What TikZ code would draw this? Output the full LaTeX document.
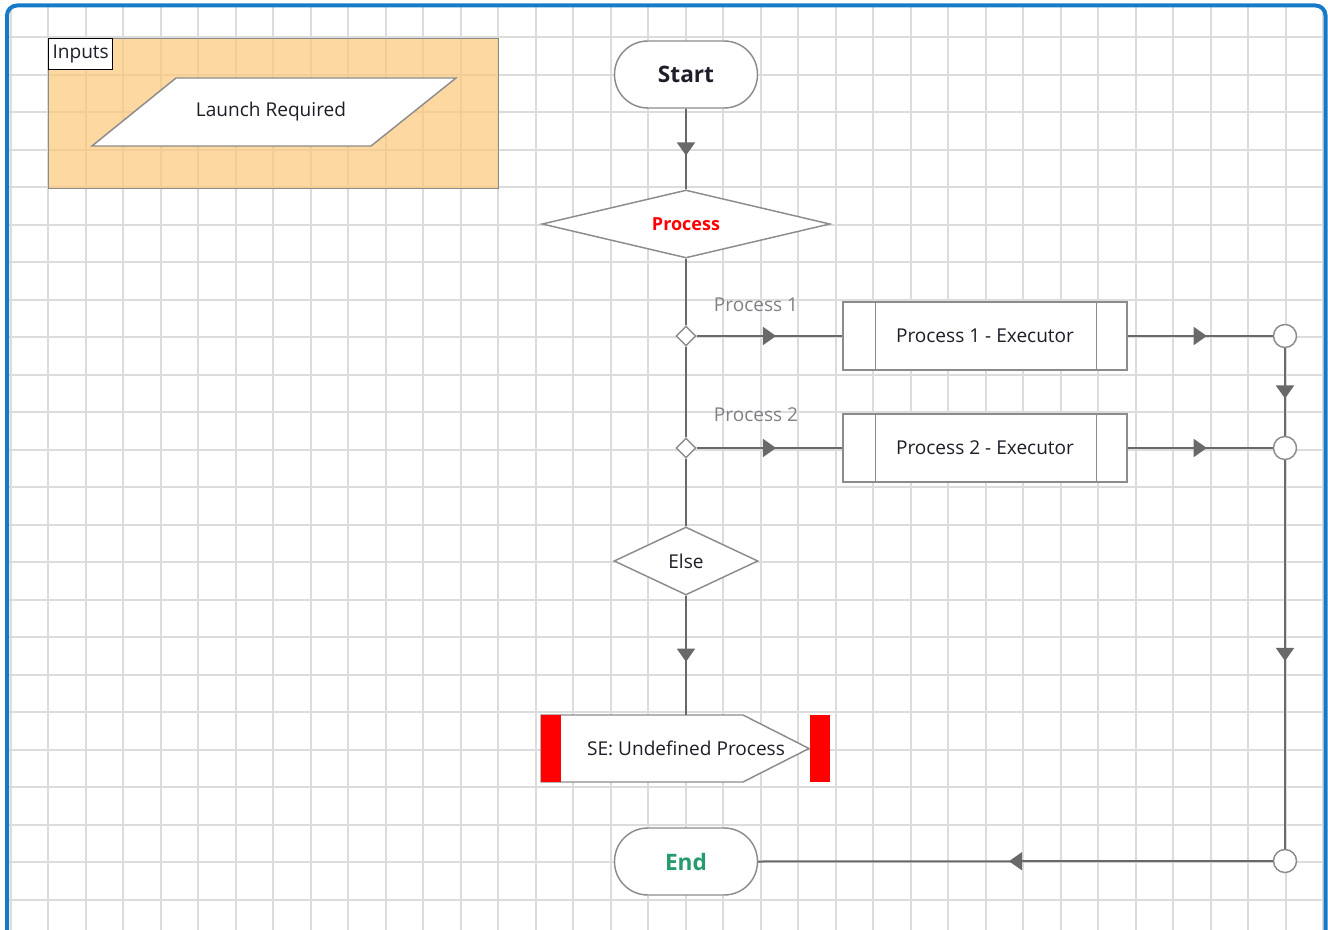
\documentclass[tikz,border=0pt]{standalone}
\usepackage{fontspec}
\setmainfont{Open Sans}
\usetikzlibrary{shapes.geometric,decorations.markings,calc}
\def\pxu{0.75pt}
\definecolor{gridc}{RGB}{220,220,220}
\definecolor{framec}{RGB}{22,122,200}
\definecolor{linec}{RGB}{105,105,105}
\definecolor{bordc}{RGB}{140,140,140}
\definecolor{orangec}{RGB}{252,200,119}
\definecolor{endc}{RGB}{38,155,110}
\definecolor{lblc}{RGB}{128,128,135}
\definecolor{txtc}{RGB}{30,30,40}
\begin{document}
\begin{tikzpicture}[x=0.75pt,y=-0.75pt,
  every node/.style={font=\fontsize{14.3}{17}\selectfont, text=txtc},
  conn/.style={draw=linec,line width=1.5pt},
  midarrow/.style={postaction={decorate},decoration={markings,
     mark=at position 0.5 with {\fill[linec] (4.9pt,0pt)--(-4.9pt,6.9pt)--(-4.9pt,-6.9pt)--cycle;}}},
  shp/.style={draw=bordc, fill=white, line width=1.1pt},
  term/.style={shp, rounded corners=25pt, minimum width=143*\pxu, minimum height=67*\pxu,
     font=\fontsize{17}{20}\selectfont\bfseries},
  dia/.style={shp, diamond, inner sep=0pt, aspect=3},
  pbox/.style={shp, rectangle, minimum width=284*\pxu, minimum height=68*\pxu},
  junc/.style={shp, circle, inner sep=0pt, minimum size=23*\pxu},
  sdia/.style={shp, diamond, inner sep=0pt, minimum width=20*\pxu, minimum height=20*\pxu},
  lbl/.style={text=lblc}
]
\useasboundingbox (0,0) rectangle (1328,930);
% grid
\begin{scope}
  \clip[rounded corners=7.5pt] (7,5.5) rectangle (1325.5,945);
  \foreach \i in {0,...,35} \draw[gridc,line width=1.4pt] (10.8+37.5*\i,0) -- (10.8+37.5*\i,935);
  \foreach \j in {1,...,24} \draw[gridc,line width=1.4pt] (0,-0.2+37.5*\j) -- (1328,-0.2+37.5*\j);
\end{scope}
\draw[framec,line width=3pt,rounded corners=7.5pt] (7,940) -- (7,5.5) -- (1325.5,5.5) -- (1325.5,940);

% inputs group
\node[draw=bordc, line width=1pt, fill=orangec, fill opacity=0.7, anchor=north west,
  minimum width=450*\pxu, minimum height=150*\pxu, inner sep=0pt] (grp) at (48,38) {};
\node[draw=black, fill=white, line width=1pt, anchor=north west, inner sep=0pt,
  minimum width=64*\pxu, minimum height=31*\pxu] (inlbl) at (48,38) {Inputs};
\draw[shp] (92,146) -- (176,78) -- (456,78) -- (371,146) -- cycle;
\node (launch) at (271,112) {Launch Required};

% main flow
\node[term] (start) at (686,74.5) {Start};
\node[dia, minimum width=288*\pxu, minimum height=68*\pxu, font=\fontsize{13.5}{16}\selectfont\bfseries, text=red] (proc) at (686,224) {Process};
\node[sdia] (d1) at (686,336) {};
\node[sdia] (d2) at (686,448) {};
\node[dia, minimum width=144*\pxu, minimum height=68*\pxu] (else) at (686,561) {Else};

\node[pbox] (p1) at (985,336) {Process 1 - Executor};
\node[pbox] (p2) at (985,448) {Process 2 - Executor};
\foreach \b in {p1,p2}{
  \draw[bordc,line width=1.1pt] ($(\b.north west)+(33,0)$) -- ($(\b.south west)+(33,0)$);
  \draw[bordc,line width=1.1pt] ($(\b.north east)+(-31,0)$) -- ($(\b.south east)+(-31,0)$);
}
\node[lbl] (l1) at (756,305) {Process 1};
\node[lbl] (l2) at (756,415) {Process 2};

\node[junc] (c1) at (1285,336) {};
\node[junc] (c2) at (1285,448) {};
\node[junc] (c3) at (1285,861) {};

% SE node
\draw[shp] (541,715) -- (743,715) -- (809,748.5) -- (743,782) -- (541,782) -- cycle;
\fill[red] (541,715) rectangle (561,782);
\fill[red] (810,715) rectangle (830,782);
\node[minimum height=67*\pxu, inner sep=0pt] (se) at (686,748.5) {SE: Undefined Process};

\node[term, text=endc] (end) at (686,861.5) {End};

% connectors
\draw[conn,midarrow] (start.south) -- (proc.north);
\draw[conn] (proc.south) -- (d1.north);
\draw[conn] (d1.south) -- (d2.north);
\draw[conn] (d2.south) -- (else.north);
\draw[conn,midarrow] (d1.east) -- (p1.west);
\draw[conn,midarrow] (d2.east) -- (p2.west);
\draw[conn,midarrow] (p1.east) -- (c1.west);
\draw[conn,midarrow] (p2.east) -- (c2.west);
\draw[conn,midarrow] (c1.south) -- (c2.north);
\draw[conn,midarrow] (c2.south) -- (c3.north);
\draw[conn,midarrow] (c3.west) -- (end.east);
\draw[conn,midarrow] (else.south) -- (se.north);
\end{tikzpicture}
\end{document}
